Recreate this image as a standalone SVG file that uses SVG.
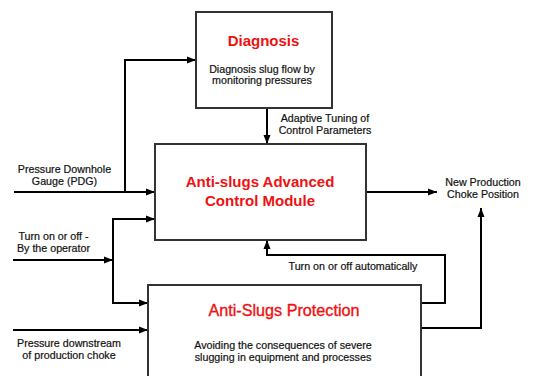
<svg xmlns="http://www.w3.org/2000/svg" width="533" height="376" viewBox="0 0 533 376">
<defs>
<marker id="ah" markerWidth="10" markerHeight="8" refX="9" refY="4" orient="auto" markerUnits="userSpaceOnUse">
<path d="M0,0.5 L9,4 L0,7.5 Z" fill="#000"/>
</marker>
<style>
.box{fill:#fff;stroke:#333;stroke-width:2}
.title{font-family:"Liberation Sans",Arial,sans-serif;font-weight:bold;font-size:15px;fill:#ee1111;text-anchor:middle}
.ptitle{font-family:"Liberation Sans",Arial,sans-serif;font-size:16.2px;fill:#ee1111;stroke:#ee1111;stroke-width:0.35;text-anchor:middle}
.t{font-family:"Liberation Sans",Arial,sans-serif;font-size:10.7px;fill:#111;stroke:#111;stroke-width:0.2;text-anchor:middle}
.c{fill:none;stroke:#000;stroke-width:2;marker-end:url(#ah)}
</style>
</defs>
<rect width="533" height="376" fill="#fff"/>
<g id="connectors">
<path class="c" d="M14,192 H155"/>
<path class="c" d="M125,192 V60 H196"/>
<path class="c" d="M267,108 V144"/>
<path class="c" d="M366,192 H437"/>
<path class="c" d="M13,260 H113"/>
<path class="c" d="M113,260 V219 H155"/>
<path class="c" d="M113,260 V303 H148"/>
<path class="c" d="M13,330 H148"/>
<path class="c" d="M421,303 H445 V255 H267 V240"/>
<path class="c" d="M421,328 H481 V208"/>
<text class="t" x="325" y="122">Adaptive Tuning of</text>
<text class="t" x="325" y="133.5">Control Parameters</text>
<text class="t" x="353" y="270">Turn on or off automatically</text>
</g>
<g id="diagnosis">
<rect class="box" x="196" y="12" width="136" height="96"/>
<text class="title" x="263.5" y="45.5">Diagnosis</text>
<text class="t" x="262" y="72.5">Diagnosis slug flow by</text>
<text class="t" x="262" y="84">monitoring pressures</text>
</g>
<g id="control-module">
<rect class="box" x="155" y="144" width="211" height="96"/>
<text class="title" x="260" y="187">Anti-slugs Advanced</text>
<text class="title" x="260" y="206">Control Module</text>
</g>
<g id="protection">
<rect class="box" x="148" y="285" width="273" height="100"/>
<text class="ptitle" x="284" y="316">Anti-Slugs Protection</text>
<text class="t" x="283" y="348.5">Avoiding the consequences of severe</text>
<text class="t" x="283" y="360.5">slugging in equipment and processes</text>
</g>
<g id="pdg">
<text class="t" x="64.5" y="173">Pressure Downhole</text>
<text class="t" x="64.5" y="185">Gauge (PDG)</text>
</g>
<g id="operator">
<text class="t" x="53.5" y="240">Turn on or off -</text>
<text class="t" x="53.5" y="252">By the operator</text>
</g>
<g id="downstream">
<text class="t" x="69" y="347">Pressure downstream</text>
<text class="t" x="69" y="359">of production choke</text>
</g>
<g id="output">
<text class="t" x="483" y="186">New Production</text>
<text class="t" x="483" y="198">Choke Position</text>
</g>
</svg>
